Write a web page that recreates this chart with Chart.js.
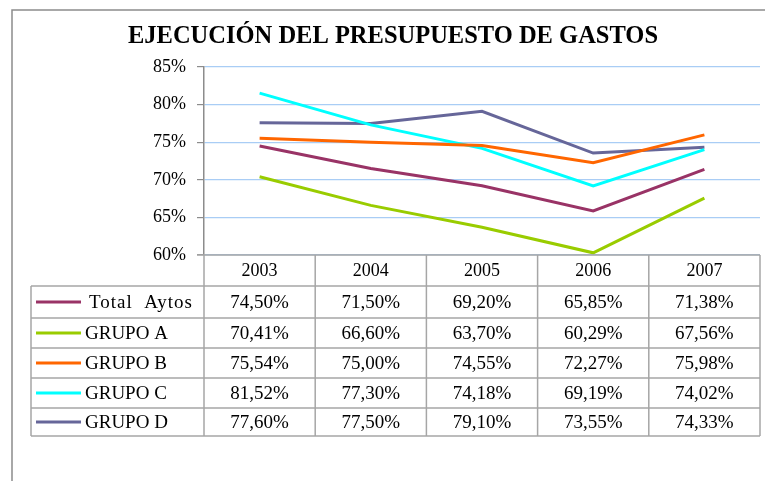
<!DOCTYPE html>
<html>
<head>
<meta charset="utf-8">
<script src="https://cdn.jsdelivr.net/npm/chart.js@4.4.0/dist/chart.umd.min.js"></script>
<style>
  html, body { margin: 0; padding: 0; background: #fff; }
  #wrap { width: 765px; height: 481px; position: relative; }
</style>
</head>
<body>
<div id="wrap"><canvas id="myChart" width="765" height="481"></canvas></div>
<script>
const years = ['2003', '2004', '2005', '2006', '2007'];
const seriesNames = ['Total  Aytos', 'GRUPO A', 'GRUPO B', 'GRUPO C', 'GRUPO D'];
const totalAytos = [74.50, 71.50, 69.20, 65.85, 71.38];
const grupoA = [70.41, 66.60, 63.70, 60.29, 67.56];
const grupoB = [75.54, 75.00, 74.55, 72.27, 75.98];
const grupoC = [81.52, 77.30, 74.18, 69.19, 74.02];
const grupoD = [77.60, 77.50, 79.10, 73.55, 74.33];
const yTicks = [60, 65, 70, 75, 80, 85];
const colors = ['#993366', '#99cc00', '#ff6600', '#00ffff', '#666699'];
const chartTitle = 'EJECUCIÓN DEL PRESUPUESTO DE GASTOS';

const allSeries = [totalAytos, grupoA, grupoB, grupoC, grupoD];
const serif = '"Liberation Serif", "DejaVu Serif", serif';

function fmt(v) {
  return v.toFixed(2).replace('.', ',') + '%';
}

const tablePlugin = {
  id: 'dataTable',
  afterDraw(chart) {
    const c = chart.ctx;
    const area = chart.chartArea;
    const colW = area.width / years.length;
    const rowH = [31, 32, 30, 30, 30, 28];
    const legLeft = 31;
    c.save();

    // outer frame
    c.strokeStyle = '#8c8c8c';
    c.lineWidth = 1.5;
    c.beginPath();
    c.moveTo(12, 481);
    c.lineTo(12, 10);
    c.lineTo(765, 10);
    c.stroke();

    // title
    c.fillStyle = '#000';
    c.font = 'bold 24.5px ' + serif;
    c.textAlign = 'center';
    c.textBaseline = 'alphabetic';
    c.fillText(chartTitle, 393, 43);

    // table lines
    c.strokeStyle = '#a6a6a6';
    c.lineWidth = 1.5;
    let y = area.bottom;
    const rowTops = [];
    for (let i = 0; i < rowH.length; i++) { rowTops.push(y); y += rowH[i]; }
    const tableBottom = y;
    c.beginPath();
    c.moveTo(area.left - 7, area.bottom);
    c.lineTo(area.right, area.bottom);
    for (let i = 1; i < rowTops.length; i++) {
      c.moveTo(legLeft, rowTops[i]);
      c.lineTo(area.right, rowTops[i]);
    }
    c.moveTo(legLeft, tableBottom);
    c.lineTo(area.right, tableBottom);
    c.moveTo(legLeft, rowTops[1]);
    c.lineTo(legLeft, tableBottom);
    for (let j = 0; j <= years.length; j++) {
      const x = area.left + j * colW;
      c.moveTo(x, area.bottom);
      c.lineTo(x, tableBottom);
    }
    c.stroke();

    // header labels
    c.fillStyle = '#000';
    c.font = '18px ' + serif;
    c.textAlign = 'center';
    c.textBaseline = 'middle';
    years.forEach((yr, j) => {
      c.fillText(yr, chart.scales.x.getPixelForValue(j), rowTops[0] + rowH[0] / 2 + 1);
    });

    // rows
    c.font = '19px ' + serif;
    allSeries.forEach((vals, i) => {
      const cy = rowTops[i + 1] + rowH[i + 1] / 2 + 1;
      c.strokeStyle = colors[i];
      c.lineWidth = 3;
      c.beginPath();
      c.moveTo(36, cy - 1);
      c.lineTo(81, cy - 1);
      c.stroke();
      c.fillStyle = '#000';
      c.textAlign = 'left';
      if (i === 0) {
        c.letterSpacing = '1px';
        c.fillText(seriesNames[i], 89, cy);
        c.letterSpacing = '0px';
      } else {
        c.fillText(seriesNames[i], 85, cy);
      }
      c.textAlign = 'center';
      vals.forEach((v, j) => {
        c.fillText(fmt(v), chart.scales.x.getPixelForValue(j), cy);
      });
    });
    c.restore();
  }
};

new Chart(document.getElementById('myChart'), {
  type: 'line',
  data: {
    labels: years,
    datasets: allSeries.map((vals, i) => ({
      label: seriesNames[i],
      data: vals,
      borderColor: colors[i],
      backgroundColor: colors[i],
      borderWidth: 3,
      pointRadius: 0,
      tension: 0
    }))
  },
  options: {
    responsive: false,
    animation: false,
    layout: { padding: { left: 12, right: 5, top: 67, bottom: 226 } },
    plugins: {
      legend: { display: false },
      title: { display: false },
      tooltip: { enabled: false }
    },
    scales: {
      x: {
        display: false,
        offset: true
      },
      y: {
        min: 60,
        max: 85,
        afterFit(scale) { scale.width = 192; },
        afterBuildTicks(scale) { scale.ticks = yTicks.map(v => ({ value: v })); },
        ticks: {
          padding: 11,
          color: '#000',
          font: { family: serif, size: 18 },
          callback: v => v + '%'
        },
        grid: {
          color: '#a9cdf5',
          tickColor: '#8c8c8c',
          tickLength: 7,
          lineWidth: 1.2
        },
        border: { color: '#8c8c8c', width: 1.5 }
      }
    }
  },
  plugins: [tablePlugin]
});
</script>
</body>
</html>
